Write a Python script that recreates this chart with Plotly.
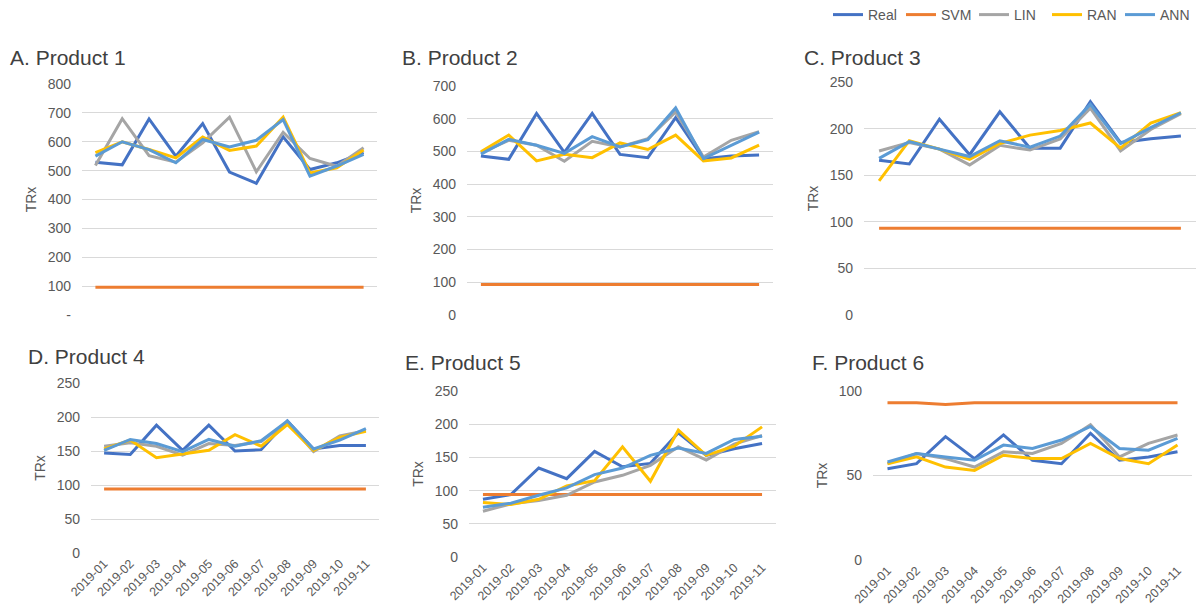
import plotly.graph_objects as go

W, H = 1197, 616

months = ["2019-01", "2019-02", "2019-03", "2019-04", "2019-05", "2019-06",
          "2019-07", "2019-08", "2019-09", "2019-10", "2019-11"]
series_names = ["Real", "SVM", "LIN", "RAN", "ANN"]

# Product 1
p1_real = [529, 520, 679, 550, 663, 495, 456, 617, 504, 527, 562]
p1_svm = [96, 96, 96, 96, 96, 96, 96, 96, 96, 96, 96]
p1_lin = [518, 680, 552, 529, 596, 685, 496, 633, 542, 515, 579]
p1_ran = [562, 600, 573, 544, 616, 570, 585, 685, 492, 510, 571]
p1_ann = [550, 600, 573, 527, 608, 582, 605, 677, 481, 516, 556]

# Product 2
p2_real = [486, 476, 616, 497, 616, 491, 481, 603, 478, 486, 489]
p2_svm = [93, 93, 93, 93, 93, 93, 93, 93, 93, 93, 93]
p2_lin = [496, 534, 519, 470, 531, 514, 539, 621, 483, 534, 560]
p2_ran = [499, 550, 471, 491, 481, 526, 506, 550, 471, 480, 519]
p2_ann = [492, 537, 519, 494, 545, 514, 536, 633, 478, 519, 559]

# Product 3
p3_real = [166, 162, 210, 172, 218, 179, 179, 229, 185, 189, 192]
p3_svm = [93, 93, 93, 93, 93, 93, 93, 93, 93, 93, 93]
p3_lin = [176, 185, 178, 161, 182, 177, 189, 222, 176, 199, 216]
p3_ran = [144, 187, 178, 167, 184, 193, 198, 206, 179, 206, 217]
p3_ann = [168, 186, 178, 170, 187, 180, 192, 226, 184, 201, 217]

# Product 4
p4_real = [147, 145, 188, 151, 188, 150, 152, 194, 153, 158, 158]
p4_svm = [94, 94, 94, 94, 94, 94, 94, 94, 94, 94, 94]
p4_lin = [157, 162, 157, 144, 161, 158, 164, 193, 149, 172, 180]
p4_ran = [153, 166, 140, 145, 151, 174, 157, 189, 151, 170, 179]
p4_ann = [151, 167, 161, 149, 167, 157, 165, 194, 153, 166, 183]

# Product 5
p5_real = [87, 94, 134, 118, 159, 136, 141, 187, 153, 163, 171]
p5_svm = [94, 94, 94, 94, 94, 94, 94, 94, 94, 94, 94]
p5_lin = [69, 80, 85, 93, 113, 123, 138, 166, 146, 170, 183]
p5_ran = [82, 79, 87, 107, 115, 166, 114, 191, 153, 167, 196]
p5_ann = [75, 81, 93, 104, 124, 134, 153, 164, 156, 177, 182]

# Product 6
p6_real = [54, 57, 73, 60, 74, 59, 57, 75, 59, 61, 64]
p6_svm = [93, 93, 92, 93, 93, 93, 93, 93, 93, 93, 93]
p6_lin = [57, 63, 60, 55, 64, 63, 69, 80, 61, 69, 74]
p6_ran = [57, 61, 55, 53, 62, 60, 60, 69, 60, 57, 68]
p6_ann = [58, 63, 61, 59, 68, 66, 71, 79, 66, 65, 72]

titles = ["A. Product 1", "B. Product 2", "C. Product 3",
          "D. Product 4", "E. Product 5", "F. Product 6"]
y_max = [800, 700, 250, 250, 250, 100]
y_step = [100, 100, 50, 50, 50, 50]

panels = [
    [p1_real, p1_svm, p1_lin, p1_ran, p1_ann],
    [p2_real, p2_svm, p2_lin, p2_ran, p2_ann],
    [p3_real, p3_svm, p3_lin, p3_ran, p3_ann],
    [p4_real, p4_svm, p4_lin, p4_ran, p4_ann],
    [p5_real, p5_svm, p5_lin, p5_ran, p5_ann],
    [p6_real, p6_svm, p6_lin, p6_ran, p6_ann],
]

colors = ["#4472C4", "#ED7D31", "#A5A5A5", "#FFC000", "#5B9BD5"]

# plot boxes in pixels: x0, x1, ytop, ybottom
boxes = [
    (82, 377, 84, 315),
    (467, 773, 86, 315),
    (864, 1196, 82, 315),
    (91, 379, 383, 553),
    (469, 776, 391, 557),
    (873, 1192, 391, 560),
]
title_pos = [(8, 57), (400, 58), (802, 57), (26, 356), (403, 362), (810, 362)]

FONT = "Liberation Sans, Arial, sans-serif"
TXT = "#595959"

fig = go.Figure()
layout = dict(
    width=W, height=H,
    margin=dict(l=0, r=0, t=0, b=0, autoexpand=False),
    paper_bgcolor="white", plot_bgcolor="white",
    font=dict(family=FONT, color=TXT, size=13),
    showlegend=True,
    legend=dict(orientation="h", x=828 / W, xanchor="left", y=1 - 15 / H, yanchor="middle",
                font=dict(size=14, color=TXT), itemwidth=30, entrywidth=28,
                tracegroupgap=0, bgcolor="rgba(0,0,0,0)"),
    annotations=[],
)

for i, data in enumerate(panels):
    k = i + 1
    xa = "x" if k == 1 else f"x{k}"
    ya = "y" if k == 1 else f"y{k}"
    for j, vals in enumerate(data):
        fig.add_trace(go.Scatter(
            x=months, y=vals, mode="lines", name=series_names[j],
            line=dict(color=colors[j], width=3),
            xaxis=xa, yaxis=ya, legendgroup=series_names[j],
            showlegend=(i == 0),
        ))
    x0, x1, yt, yb = boxes[i]
    bottom_row = i >= 3
    tickvals = list(range(0, y_max[i] + 1, y_step[i]))
    ticktext = [str(v) for v in tickvals]
    if i == 0:
        ticktext[0] = "-"
    layout[f"xaxis{'' if k == 1 else k}"] = dict(
        domain=[x0 / W, x1 / W], anchor=ya, type="category",
        range=[-0.5, 10.5], showgrid=False, showline=False, zeroline=False,
        showticklabels=bottom_row, tickangle=-45, ticks="",
        tickfont=dict(size=12.5, color=TXT), automargin=False,
    )
    layout[f"yaxis{'' if k == 1 else k}"] = dict(
        domain=[1 - yb / H, 1 - yt / H], anchor=xa,
        range=[0, y_max[i]], tickvals=tickvals, ticktext=ticktext,
        showgrid=True, gridcolor="#D9D9D9", gridwidth=1, zeroline=False,
        showline=False, ticks="", ticklabelstandoff=10,
        tickfont=dict(size=14, color=TXT), automargin=False,
        title=dict(text="TRx", font=dict(size=14, color=TXT), standoff=7),
    )
    tx, ty = title_pos[i]
    layout["annotations"].append(dict(
        text=titles[i], x=tx / W, y=1 - ty / H, xref="paper", yref="paper",
        xanchor="left", yanchor="middle", showarrow=False,
        font=dict(size=21, color="#404040", family=FONT),
    ))

fig.update_layout(**layout)
fig.write_html(
    "out.html",
    config={"displayModeBar": False},
    post_script="document.body.style.margin='0px';document.body.style.padding='0px';"
                "document.body.style.overflow='hidden';",
)
